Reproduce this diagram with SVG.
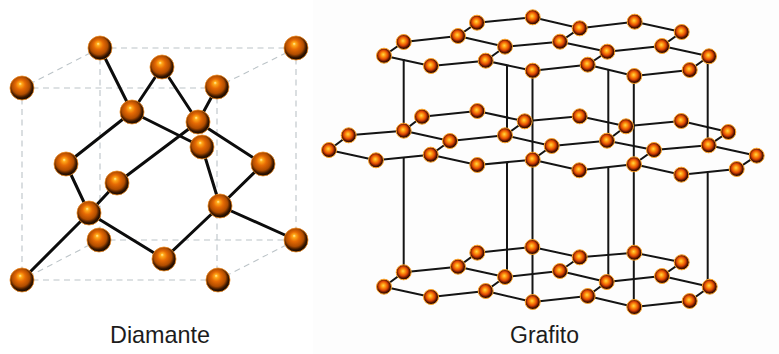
<svg xmlns="http://www.w3.org/2000/svg" width="779" height="354" viewBox="0 0 779 354">
<style>
.bg{fill:#fff}
.panel{fill:#fdfdfd}
.dash{fill:none;stroke:#bcc4c8;stroke-width:1.1;stroke-dasharray:6 4.5}
.bd{fill:none;stroke:#0c0c0c;stroke-width:3}
.bg2{fill:none;stroke:#141414;stroke-width:2}
.a{fill:url(#ball);stroke:#f08a20;stroke-width:.8}
.g{fill:url(#ballg);stroke:#ffa428;stroke-width:1}
.lab{font-family:"Liberation Sans",Arial,sans-serif;fill:#1c1c1c}
</style>
<defs>
<radialGradient id="ball" cx="0.46" cy="0.44" r="0.56" fx="0.42" fy="0.32">
<stop offset="0" stop-color="#fff2a0"/>
<stop offset="0.13" stop-color="#ffa818"/>
<stop offset="0.36" stop-color="#e66a04"/>
<stop offset="0.66" stop-color="#b04c00"/>
<stop offset="0.84" stop-color="#3c1800"/>
<stop offset="1" stop-color="#0c0400"/>
</radialGradient>
<radialGradient id="ballg" cx="0.47" cy="0.46" r="0.54" fx="0.45" fy="0.42">
<stop offset="0" stop-color="#ffd84a"/>
<stop offset="0.25" stop-color="#ff9a10"/>
<stop offset="0.55" stop-color="#e04804"/>
<stop offset="0.8" stop-color="#5a1400"/>
<stop offset="1" stop-color="#0c0200"/>
</radialGradient>
</defs>
<rect class="bg" width="779" height="354"/>
<rect class="panel" x="313" width="466" height="354"/>
<g id="connectors">
<path class="dash" d="M100 48H296M22 88H217M100 48L22 88M296 48L217 87M22 88V280M100 48V240M217 87V280M296 48V240M99 240H296M22 280H218M99 240L22 280M296 240L218 280"/>
<path class="bd" d="M100 48L132 112M162 67L132 112M162 67L198 122M217 87L198 122M132 112L66 164M132 112L202 147M198 122L263 164M198 122L117 183M202 147L220 206M66 164L89 213M263 164L220 206M117 183L89 213M89 213L22 280M89 213L164 259M220 206L164 259M220 206L296 240"/>
<path class="bg2" d="M384 55.7L403.7 42L458 36L477 22.7L532.7 17.3L579.7 28.3L634.7 21.7L681.7 32L662 46L709 56.3L689.7 70L634.3 76L587.7 64.7L607.3 51.7L662 46M607.3 51.7L560 41.7L579.7 28.3M560 41.7L505 46.7L458 36M505 46.7L485.7 60.7L431 66L384 55.7M485.7 60.7L532.7 70.7L587.7 64.7"/>
<path class="bg2" d="M329 150L348.7 135.3L403.7 130.7L422 116.7L477.3 111L524.7 121.3L579.7 116.3L626 126.3L681.3 121L728.3 132L708.7 145.3L756.7 155.7L736.7 169L681.3 174.7L634 164.3L654 150L708.7 145.3M654 150L607 140.7L626 126.3M607 140.7L551.7 146L505 135.3L524.7 121.3M505 135.3L450 141L403.7 130.7M450 141L430.7 154.7L376 160.3L329 150M430.7 154.7L477.3 165L532.7 159.7L551.7 146M532.7 159.7L579.3 170.3L634 164.3"/>
<path class="bg2" d="M384 286.7L403.7 272.3L458 266.7L477.3 252.7L532.3 247L579.7 257.3L634.3 252.7L681.7 262.3L662 276L709.7 286.7L689.7 301L634.3 307L587.7 296L606.7 282L662 276M606.7 282L560 271L579.7 257.3M560 271L505 277L458 266.7M505 277L485.7 291L431 297L384 286.7M485.7 291L532.7 302L587.7 296"/>
<path class="bg2" d="M403.7 59V130M403.7 157V272M507 65V135M507 163V277M532.5 71V302M608.3 69V140M608.3 168V282M633.8 76V307M707.7 56V145M707.7 173V287"/>
</g>
<g id="diamante">
<g id="d1"><circle class="a" cx="100" cy="48" r="12"/></g>
<g id="d2"><circle class="a" cx="296" cy="48" r="12"/></g>
<g id="d3"><circle class="a" cx="22" cy="88" r="12"/></g>
<g id="d4"><circle class="a" cx="162" cy="67" r="12"/></g>
<g id="d5"><circle class="a" cx="217" cy="87" r="12"/></g>
<g id="d6"><circle class="a" cx="132" cy="112" r="12"/></g>
<g id="d8"><circle class="a" cx="202" cy="147" r="12"/></g>
<g id="d7"><circle class="a" cx="198" cy="122" r="12"/></g>
<g id="d9"><circle class="a" cx="66" cy="164" r="12"/></g>
<g id="d10"><circle class="a" cx="263" cy="164" r="12"/></g>
<g id="d11"><circle class="a" cx="117" cy="183" r="12"/></g>
<g id="d14"><circle class="a" cx="99" cy="240" r="12"/></g>
<g id="d12"><circle class="a" cx="89" cy="213" r="12"/></g>
<g id="d13"><circle class="a" cx="220" cy="206" r="12"/></g>
<g id="d15"><circle class="a" cx="296" cy="240" r="12"/></g>
<g id="d16"><circle class="a" cx="164" cy="259" r="12"/></g>
<g id="d17"><circle class="a" cx="22" cy="280" r="12"/></g>
<g id="d18"><circle class="a" cx="218" cy="280" r="12"/></g>
</g>
<g id="grafito-top">
<g id="t1"><circle class="g" cx="384" cy="55.7" r="7.5"/></g>
<g id="t2"><circle class="g" cx="403.7" cy="42" r="7.5"/></g>
<g id="t3"><circle class="g" cx="458" cy="36" r="7.5"/></g>
<g id="t4"><circle class="g" cx="477" cy="22.7" r="7.5"/></g>
<g id="t5"><circle class="g" cx="532.7" cy="17.3" r="7.5"/></g>
<g id="t6"><circle class="g" cx="579.7" cy="28.3" r="7.5"/></g>
<g id="t7"><circle class="g" cx="634.7" cy="21.7" r="7.5"/></g>
<g id="t8"><circle class="g" cx="681.7" cy="32" r="7.5"/></g>
<g id="t9"><circle class="g" cx="431" cy="66" r="7.5"/></g>
<g id="t10"><circle class="g" cx="485.7" cy="60.7" r="7.5"/></g>
<g id="t11"><circle class="g" cx="505" cy="46.7" r="7.5"/></g>
<g id="t12"><circle class="g" cx="560" cy="41.7" r="7.5"/></g>
<g id="t13"><circle class="g" cx="607.3" cy="51.7" r="7.5"/></g>
<g id="t14"><circle class="g" cx="662" cy="46" r="7.5"/></g>
<g id="t15"><circle class="g" cx="709" cy="56.3" r="7.5"/></g>
<g id="t16"><circle class="g" cx="532.7" cy="70.7" r="7.5"/></g>
<g id="t17"><circle class="g" cx="587.7" cy="64.7" r="7.5"/></g>
<g id="t18"><circle class="g" cx="634.3" cy="76" r="7.5"/></g>
<g id="t19"><circle class="g" cx="689.7" cy="70" r="7.5"/></g>
</g>
<g id="grafito-mid">
<g id="m1"><circle class="g" cx="329" cy="150" r="7.5"/></g>
<g id="m2"><circle class="g" cx="348.7" cy="135.3" r="7.5"/></g>
<g id="m3"><circle class="g" cx="403.7" cy="130.7" r="7.5"/></g>
<g id="m4"><circle class="g" cx="422" cy="116.7" r="7.5"/></g>
<g id="m5"><circle class="g" cx="477.3" cy="111" r="7.5"/></g>
<g id="m6"><circle class="g" cx="524.7" cy="121.3" r="7.5"/></g>
<g id="m7"><circle class="g" cx="579.7" cy="116.3" r="7.5"/></g>
<g id="m8"><circle class="g" cx="626" cy="126.3" r="7.5"/></g>
<g id="m9"><circle class="g" cx="681.3" cy="121" r="7.5"/></g>
<g id="m10"><circle class="g" cx="728.3" cy="132" r="7.5"/></g>
<g id="m11"><circle class="g" cx="376" cy="160.3" r="7.5"/></g>
<g id="m12"><circle class="g" cx="430.7" cy="154.7" r="7.5"/></g>
<g id="m13"><circle class="g" cx="450" cy="141" r="7.5"/></g>
<g id="m14"><circle class="g" cx="505" cy="135.3" r="7.5"/></g>
<g id="m15"><circle class="g" cx="551.7" cy="146" r="7.5"/></g>
<g id="m16"><circle class="g" cx="607" cy="140.7" r="7.5"/></g>
<g id="m17"><circle class="g" cx="654" cy="150" r="7.5"/></g>
<g id="m18"><circle class="g" cx="708.7" cy="145.3" r="7.5"/></g>
<g id="m19"><circle class="g" cx="756.7" cy="155.7" r="7.5"/></g>
<g id="m20"><circle class="g" cx="477.3" cy="165" r="7.5"/></g>
<g id="m21"><circle class="g" cx="532.7" cy="159.7" r="7.5"/></g>
<g id="m22"><circle class="g" cx="579.3" cy="170.3" r="7.5"/></g>
<g id="m23"><circle class="g" cx="634" cy="164.3" r="7.5"/></g>
<g id="m24"><circle class="g" cx="681.3" cy="174.7" r="7.5"/></g>
<g id="m25"><circle class="g" cx="736.7" cy="169" r="7.5"/></g>
</g>
<g id="grafito-bottom">
<g id="b1"><circle class="g" cx="384" cy="286.7" r="7.5"/></g>
<g id="b2"><circle class="g" cx="403.7" cy="272.3" r="7.5"/></g>
<g id="b3"><circle class="g" cx="458" cy="266.7" r="7.5"/></g>
<g id="b4"><circle class="g" cx="477.3" cy="252.7" r="7.5"/></g>
<g id="b5"><circle class="g" cx="532.3" cy="247" r="7.5"/></g>
<g id="b6"><circle class="g" cx="579.7" cy="257.3" r="7.5"/></g>
<g id="b7"><circle class="g" cx="634.3" cy="252.7" r="7.5"/></g>
<g id="b8"><circle class="g" cx="681.7" cy="262.3" r="7.5"/></g>
<g id="b9"><circle class="g" cx="431" cy="297" r="7.5"/></g>
<g id="b10"><circle class="g" cx="485.7" cy="291" r="7.5"/></g>
<g id="b11"><circle class="g" cx="505" cy="277" r="7.5"/></g>
<g id="b12"><circle class="g" cx="560" cy="271" r="7.5"/></g>
<g id="b13"><circle class="g" cx="606.7" cy="282" r="7.5"/></g>
<g id="b14"><circle class="g" cx="662" cy="276" r="7.5"/></g>
<g id="b15"><circle class="g" cx="709.7" cy="286.7" r="7.5"/></g>
<g id="b16"><circle class="g" cx="532.7" cy="302" r="7.5"/></g>
<g id="b17"><circle class="g" cx="587.7" cy="296" r="7.5"/></g>
<g id="b18"><circle class="g" cx="634.3" cy="307" r="7.5"/></g>
<g id="b19"><circle class="g" cx="689.7" cy="301" r="7.5"/></g>
</g>
<text class="lab" x="110" y="342.5" font-size="23.4">Diamante</text>
<text class="lab" x="510" y="343" font-size="23">Grafito</text>
</svg>
